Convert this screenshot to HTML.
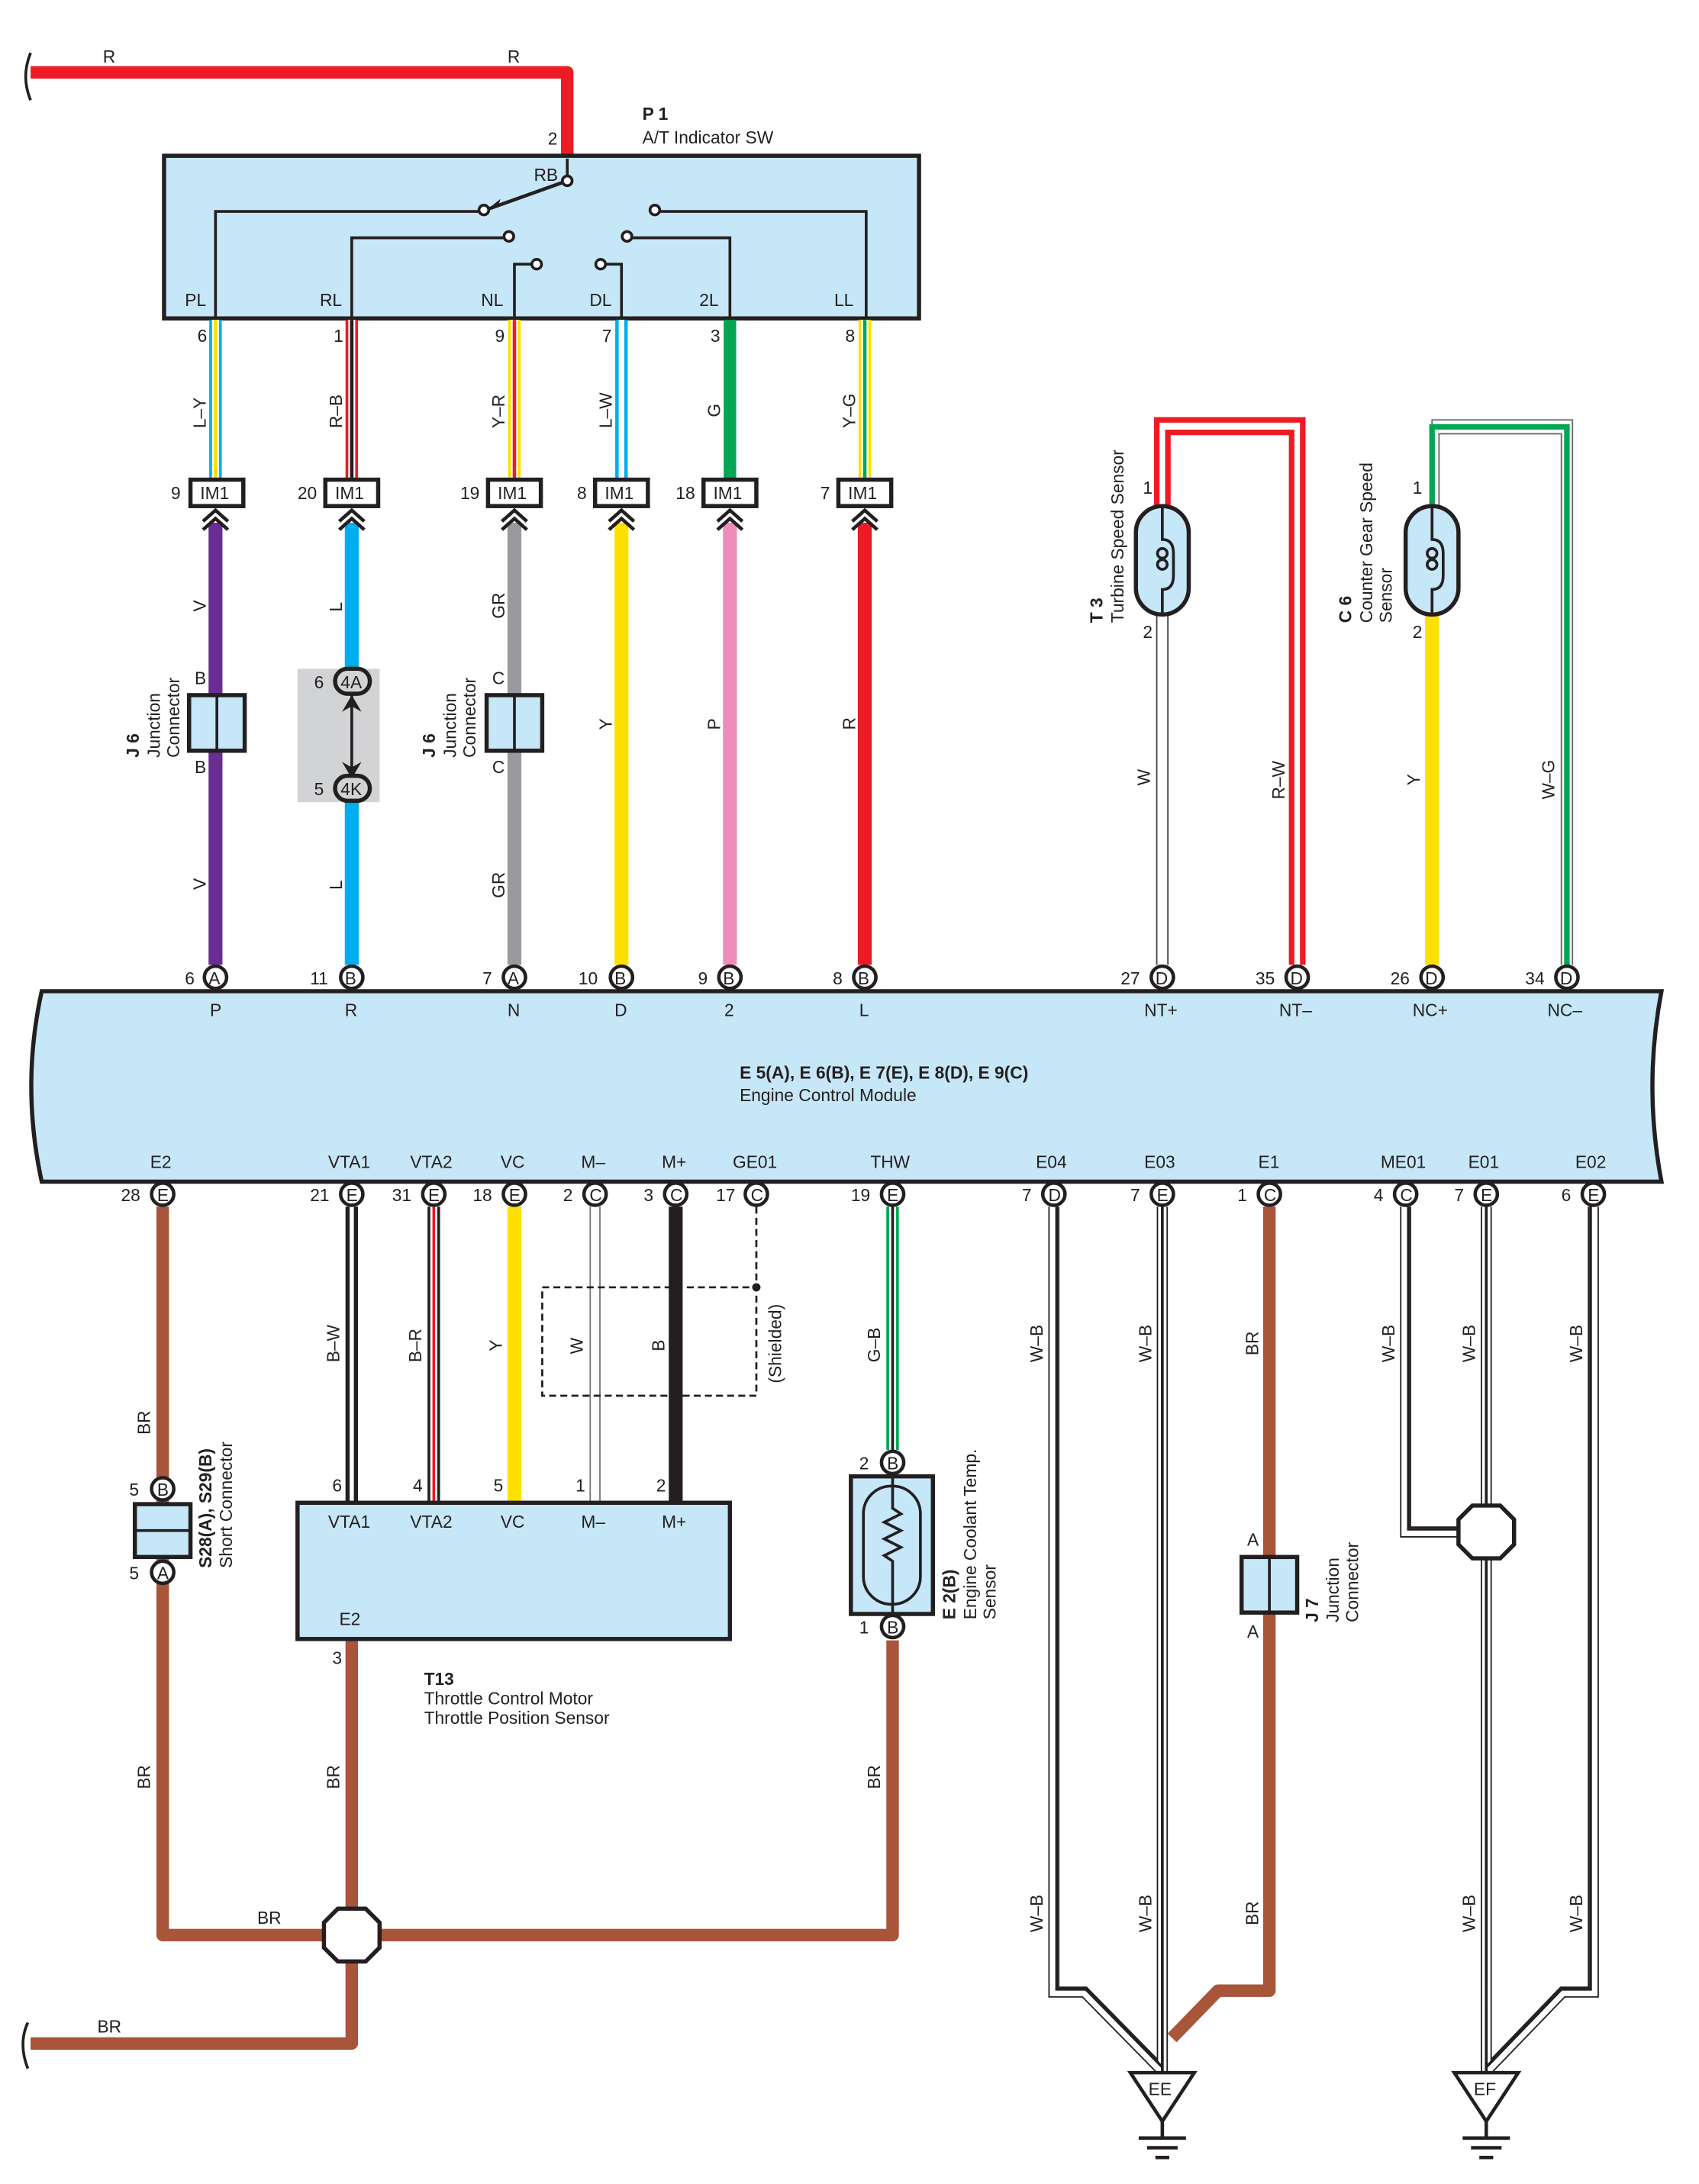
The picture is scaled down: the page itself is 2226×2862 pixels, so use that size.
<!DOCTYPE html>
<html><head><meta charset="utf-8"><style>
html,body{margin:0;padding:0;background:#fff}
svg{display:block}
text{font-family:"Liberation Sans",sans-serif;font-size:12.5px;fill:#231f20}
.b{font-weight:bold}
.bx{fill:#c6e7f8;stroke:#231f20;stroke-width:3}
.k{fill:none;stroke:#231f20;stroke-width:2}
.pin{fill:#fff;stroke:#231f20;stroke-width:2.5}
.br{fill:none;stroke:#a8553a;stroke-width:9;stroke-linejoin:round}
</style></head><body>
<svg width="2226" height="2862" viewBox="0 0 1222 1571" xmlns="http://www.w3.org/2000/svg">
<path d="M22 52 H408 V112" fill="none" stroke="#ed1c24" stroke-width="9" stroke-linejoin="round"/>
<path d="M22 38 Q15 55 22 72" class="k"/>
<text x="74" y="45">R</text><text x="365" y="45">R</text>
<text x="462" y="86" class="b">P 1</text><text x="462" y="103">A/T Indicator SW</text>
<text x="394" y="104">2</text>
<rect x="118" y="112" width="543" height="117" class="bx"/>
<text x="384" y="130">RB</text>
<path d="M408 114 V130" class="k"/>
<path d="M408 130 L352 150" stroke="#231f20" stroke-width="2.5" fill="none"/>
<path d="M350 151 l10 -8 l-2 6z" fill="#231f20"/>
<g class="k" fill="#fff">
<circle cx="408" cy="130" r="3.5" fill="#fff"/>
<circle cx="348" cy="151" r="3.5" fill="#fff"/><circle cx="471" cy="151" r="3.5" fill="#fff"/>
<circle cx="366" cy="170" r="3.5" fill="#fff"/><circle cx="451" cy="170" r="3.5" fill="#fff"/>
<circle cx="386" cy="190" r="3.5" fill="#fff"/><circle cx="432" cy="190" r="3.5" fill="#fff"/>
</g>
<path d="M155 229 V152 H344 M475 152 H623 V229 M253 229 V171 H362 M455 171 H525 V229 M370 229 V190 H382 M436 190 H447 V229" class="k"/>
<text x="133" y="220">PL</text><text x="230" y="220">RL</text><text x="346" y="220">NL</text><text x="424" y="220">DL</text><text x="503" y="220">2L</text><text x="600" y="220">LL</text>
<text x="142" y="246">6</text><text x="240" y="246">1</text><text x="356" y="246">9</text><text x="433" y="246">7</text><text x="511" y="246">3</text><text x="608" y="246">8</text>
<g fill="none">
<path d="M155 230 V345" stroke="#00aeef" stroke-width="9"/><path d="M155 230 V345" stroke="#fff" stroke-width="5"/><path d="M155 230 V345" stroke="#ffe000" stroke-width="2.5"/>
<path d="M253 230 V345" stroke="#ed1c24" stroke-width="9"/><path d="M253 230 V345" stroke="#fff" stroke-width="5"/><path d="M253 230 V345" stroke="#231f20" stroke-width="2.5"/>
<path d="M370 230 V345" stroke="#ffe000" stroke-width="9"/><path d="M370 230 V345" stroke="#fff" stroke-width="5"/><path d="M370 230 V345" stroke="#ed1c24" stroke-width="2.5"/>
<path d="M447 230 V345" stroke="#00aeef" stroke-width="9"/><path d="M447 230 V345" stroke="#fff" stroke-width="4"/>
<path d="M525 230 V345" stroke="#00a651" stroke-width="9"/>
<path d="M622 230 V345" stroke="#ffe000" stroke-width="9"/><path d="M622 230 V345" stroke="#fff" stroke-width="5"/><path d="M622 230 V345" stroke="#00a651" stroke-width="2.5"/>
</g>
<g transform="rotate(-90)">
<text x="-308" y="148">L–Y</text><text x="-308" y="246">R–B</text><text x="-308" y="363">Y–R</text><text x="-308" y="440">L–W</text><text x="-300" y="518">G</text><text x="-308" y="615">Y–G</text>
</g>
<g>
<rect x="137" y="345" width="38" height="19" fill="#fff" stroke="#231f20" stroke-width="3"/><text x="144" y="359">IM1</text>
<rect x="234" y="345" width="38" height="19" fill="#fff" stroke="#231f20" stroke-width="3"/><text x="241" y="359">IM1</text>
<rect x="351" y="345" width="38" height="19" fill="#fff" stroke="#231f20" stroke-width="3"/><text x="358" y="359">IM1</text>
<rect x="428" y="345" width="38" height="19" fill="#fff" stroke="#231f20" stroke-width="3"/><text x="435" y="359">IM1</text>
<rect x="506" y="345" width="38" height="19" fill="#fff" stroke="#231f20" stroke-width="3"/><text x="513" y="359">IM1</text>
<rect x="603" y="345" width="38" height="19" fill="#fff" stroke="#231f20" stroke-width="3"/><text x="610" y="359">IM1</text>
</g>
<text x="123" y="359">9</text><text x="214" y="359">20</text><text x="331" y="359">19</text><text x="415" y="359">8</text><text x="486" y="359">18</text><text x="590" y="359">7</text>
<g fill="none" stroke-width="10">
<path d="M155 376 V694" stroke="#6b2d91"/>
<path d="M253 376 V694" stroke="#00aeef"/>
<path d="M370 376 V694" stroke="#999a9d"/>
<path d="M447 376 V694" stroke="#ffe000"/>
<path d="M525 376 V694" stroke="#f08cba"/>
<path d="M622 376 V694" stroke="#ed1c24"/>
</g>
<g fill="none" stroke="#231f20" stroke-width="2.5">
<path d="M146 375 l9 -8 l9 8 M146 381 l9 -8 l9 8"/>
<path d="M244 375 l9 -8 l9 8 M244 381 l9 -8 l9 8"/>
<path d="M361 375 l9 -8 l9 8 M361 381 l9 -8 l9 8"/>
<path d="M438 375 l9 -8 l9 8 M438 381 l9 -8 l9 8"/>
<path d="M516 375 l9 -8 l9 8 M516 381 l9 -8 l9 8"/>
<path d="M613 375 l9 -8 l9 8 M613 381 l9 -8 l9 8"/>
</g>
<g transform="rotate(-90)">
<text x="-440" y="148">V</text><text x="-640" y="148">V</text>
<text x="-440" y="246">L</text><text x="-640" y="246">L</text>
<text x="-445" y="363">GR</text><text x="-646" y="363">GR</text>
<text x="-525" y="440">Y</text><text x="-525" y="518">P</text><text x="-525" y="615">R</text>
<text x="-545" y="100" class="b">J 6</text><text x="-545" y="115">Junction</text><text x="-545" y="129">Connector</text>
<text x="-545" y="313" class="b">J 6</text><text x="-545" y="328">Junction</text><text x="-545" y="342">Connector</text>
</g>
<rect x="136" y="500" width="40" height="40" class="bx"/><path d="M156 500 V540" class="k"/>
<text x="140" y="492">B</text><text x="140" y="556">B</text>
<rect x="350" y="500" width="40" height="40" class="bx"/><path d="M370 500 V540" class="k"/>
<text x="354" y="492">C</text><text x="354" y="556">C</text>
<rect x="214" y="481" width="59" height="96" fill="#d1d3d4"/>
<path d="M253 500 V556" stroke="#231f20" stroke-width="2"/>
<path d="M253 500 l-7 12 l7 -4 l7 4z M253 560 l-7 -12 l7 4 l7 -4z" fill="#231f20"/>
<rect x="241" y="481" width="25" height="18" rx="9" fill="#d1d3d4" stroke="#231f20" stroke-width="3"/><text x="245" y="495">4A</text>
<rect x="241" y="558" width="25" height="18" rx="9" fill="#d1d3d4" stroke="#231f20" stroke-width="3"/><text x="245" y="572">4K</text>
<text x="226" y="495">6</text><text x="226" y="572">5</text>
<!-- T3 -->
<path d="M832 365 V302 H937 V694" fill="none" stroke="#ed1c24" stroke-width="4"/>
<path d="M840 365 V311 H929 V694" fill="none" stroke="#ed1c24" stroke-width="4"/>
<path d="M836 441 V694" fill="none" stroke="#444" stroke-width="9"/><path d="M836 441 V694" fill="none" stroke="#fff" stroke-width="7"/>
<rect x="817" y="364" width="38" height="78" rx="19" class="bx"/>
<path d="M836 364 V388 q8 0 8 10 v16 q0 10 -8 10 V442" class="k"/>
<circle cx="836" cy="398" r="3.5" class="k"/><circle cx="836" cy="406" r="3.5" class="k"/>
<text x="822" y="355">1</text><text x="822" y="459">2</text>
<!-- C6 -->
<path d="M1030 365 V302 H1131 V694" fill="none" stroke="#666" stroke-width="1"/>
<path d="M1030 365 V307 H1127 V694" fill="none" stroke="#00a651" stroke-width="4"/>
<path d="M1035 365 V312 H1123 V694" fill="none" stroke="#666" stroke-width="1"/>
<path d="M1030 441 V694" stroke="#ffe000" stroke-width="10"/>
<rect x="1011" y="364" width="38" height="78" rx="19" class="bx"/>
<path d="M1030 364 V388 q8 0 8 10 v16 q0 10 -8 10 V442" class="k"/>
<circle cx="1030" cy="398" r="3.5" class="k"/><circle cx="1030" cy="406" r="3.5" class="k"/>
<text x="1016" y="355">1</text><text x="1016" y="459">2</text>
<g transform="rotate(-90)">
<text x="-448" y="793" class="b">T 3</text><text x="-448" y="808">Turbine Speed Sensor</text>
<text x="-448" y="972" class="b">C 6</text><text x="-448" y="987">Counter Gear Speed</text><text x="-448" y="1001">Sensor</text>
<text x="-565" y="827">W</text><text x="-575" y="924">R–W</text><text x="-565" y="1021">Y</text><text x="-575" y="1118">W–G</text>
</g>
<path d="M30 713 H1195 Q1182 781 1195 850 H30 Q15 781 30 713Z" class="bx"/>
<g>
<circle cx="155" cy="703" r="8" class="pin"/><text x="150" y="708">A</text>
<circle cx="253" cy="703" r="8" class="pin"/><text x="248" y="708">B</text>
<circle cx="370" cy="703" r="8" class="pin"/><text x="365" y="708">A</text>
<circle cx="447" cy="703" r="8" class="pin"/><text x="442" y="708">B</text>
<circle cx="525" cy="703" r="8" class="pin"/><text x="520" y="708">B</text>
<circle cx="622" cy="703" r="8" class="pin"/><text x="617" y="708">B</text>
<circle cx="836" cy="703" r="8" class="pin"/><text x="831" y="708">D</text>
<circle cx="933" cy="703" r="8" class="pin"/><text x="928" y="708">D</text>
<circle cx="1030" cy="703" r="8" class="pin"/><text x="1025" y="708">D</text>
<circle cx="1127" cy="703" r="8" class="pin"/><text x="1122" y="708">D</text>
</g>
<text x="133" y="708">6</text><text x="223" y="708">11</text><text x="347" y="708">7</text><text x="416" y="708">10</text><text x="502" y="708">9</text><text x="599" y="708">8</text>
<text x="806" y="708">27</text><text x="903" y="708">35</text><text x="1000" y="708">26</text><text x="1097" y="708">34</text>
<text x="151" y="731">P</text><text x="248" y="731">R</text><text x="365" y="731">N</text><text x="442" y="731">D</text><text x="521" y="731">2</text><text x="618" y="731">L</text>
<text x="823" y="731">NT+</text><text x="920" y="731">NT–</text><text x="1016" y="731">NC+</text><text x="1113" y="731">NC–</text>
<text x="532" y="776" class="b">E 5(A), E 6(B), E 7(E), E 8(D), E 9(C)</text>
<text x="532" y="792">Engine Control Module</text>
<text x="108" y="840">E2</text><text x="236" y="840">VTA1</text><text x="295" y="840">VTA2</text><text x="360" y="840">VC</text><text x="418" y="840">M–</text><text x="476" y="840">M+</text><text x="527" y="840">GE01</text><text x="626" y="840">THW</text>
<text x="745" y="840">E04</text><text x="823" y="840">E03</text><text x="905" y="840">E1</text><text x="993" y="840">ME01</text><text x="1056" y="840">E01</text><text x="1133" y="840">E02</text>
<path d="M117 868 V1392 H642 V1180 M253 1180 V1470 H22" class="br"/>
<path d="M20 1455 Q13 1470 20 1488" class="k"/>
<g fill="none">
<path d="M253 868 V1081" stroke="#231f20" stroke-width="9"/><path d="M253 868 V1081" stroke="#fff" stroke-width="3"/>
<path d="M312 868 V1081" stroke="#231f20" stroke-width="9"/><path d="M312 868 V1081" stroke="#fff" stroke-width="5"/><path d="M312 868 V1081" stroke="#ed1c24" stroke-width="2"/>
<path d="M370 868 V1081" stroke="#ffe000" stroke-width="10"/>
<path d="M428 868 V1081" stroke="#777" stroke-width="8"/><path d="M428 868 V1081" stroke="#fff" stroke-width="6"/>
<path d="M486 868 V1081" stroke="#231f20" stroke-width="10"/>
<path d="M642 868 V1043" stroke="#00a651" stroke-width="9"/><path d="M642 868 V1043" stroke="#fff" stroke-width="5"/><path d="M642 868 V1043" stroke="#231f20" stroke-width="2"/>
<path d="M544 868 V926 M390 926 H544 V1004 H390Z" stroke="#231f20" stroke-width="1.5" stroke-dasharray="5 3"/>
</g>
<circle cx="544" cy="926" r="3" fill="#231f20"/>
<g fill="none" stroke-linejoin="miter">
<path d="M758 868 V1433 H780 L836 1490 M836 868 V1490 M1146 868 V1433 H1124 L1069 1490 M1069 868 V1490 M1011 868 V1102 H1069" stroke="#231f20" stroke-width="8"/>
<path d="M758 868 V1433 H780 L836 1490 M836 868 V1490 M1146 868 V1433 H1124 L1069 1490 M1069 868 V1490 M1011 868 V1102 H1069" stroke="#fff" stroke-width="6"/>
<path d="M760 868 V1431 H781 L836 1487 M836 868 V1490 M1144 868 V1431 H1123 L1069 1487 M1069 868 V1490 M1013 868 V1100 H1069" stroke="#231f20" stroke-width="2"/>
</g>
<path d="M913 868 V1432 H876 L843 1466" class="br"/>
<g>
<circle cx="117" cy="859" r="8" class="pin"/><text x="113" y="864">E</text>
<circle cx="253" cy="859" r="8" class="pin"/><text x="249" y="864">E</text>
<circle cx="312" cy="859" r="8" class="pin"/><text x="308" y="864">E</text>
<circle cx="370" cy="859" r="8" class="pin"/><text x="366" y="864">E</text>
<circle cx="428" cy="859" r="8" class="pin"/><text x="424" y="864">C</text>
<circle cx="486" cy="859" r="8" class="pin"/><text x="482" y="864">C</text>
<circle cx="544" cy="859" r="8" class="pin"/><text x="540" y="864">C</text>
<circle cx="642" cy="859" r="8" class="pin"/><text x="638" y="864">E</text>
<circle cx="758" cy="859" r="8" class="pin"/><text x="754" y="864">D</text>
<circle cx="836" cy="859" r="8" class="pin"/><text x="832" y="864">E</text>
<circle cx="913" cy="859" r="8" class="pin"/><text x="909" y="864">C</text>
<circle cx="1011" cy="859" r="8" class="pin"/><text x="1007" y="864">C</text>
<circle cx="1069" cy="859" r="8" class="pin"/><text x="1065" y="864">E</text>
<circle cx="1146" cy="859" r="8" class="pin"/><text x="1142" y="864">E</text>
</g>
<text x="87" y="864">28</text><text x="223" y="864">21</text><text x="282" y="864">31</text><text x="340" y="864">18</text><text x="405" y="864">2</text><text x="463" y="864">3</text><text x="515" y="864">17</text><text x="612" y="864">19</text>
<text x="735" y="864">7</text><text x="813" y="864">7</text><text x="890" y="864">1</text><text x="988" y="864">4</text><text x="1046" y="864">7</text><text x="1123" y="864">6</text>
<circle cx="117" cy="1071" r="8" class="pin"/><text x="113" y="1076">B</text>
<circle cx="117" cy="1131" r="8" class="pin"/><text x="113" y="1136">A</text>
<rect x="97" y="1082" width="40" height="38" class="bx"/><path d="M97 1101 H137" class="k"/>
<text x="93" y="1076">5</text><text x="93" y="1136">5</text>
<rect x="214" y="1081" width="311" height="98" class="bx"/>
<text x="236" y="1099">VTA1</text><text x="295" y="1099">VTA2</text><text x="360" y="1099">VC</text><text x="418" y="1099">M–</text><text x="476" y="1099">M+</text>
<text x="244" y="1169">E2</text>
<text x="239" y="1073">6</text><text x="297" y="1073">4</text><text x="355" y="1073">5</text><text x="414" y="1073">1</text><text x="472" y="1073">2</text>
<text x="239" y="1197">3</text>
<text x="305" y="1212" class="b">T13</text><text x="305" y="1226">Throttle Control Motor</text><text x="305" y="1240">Throttle Position Sensor</text>
<rect x="612" y="1062" width="59" height="99" class="bx"/>
<rect x="621" y="1069" width="41" height="85" rx="20" class="k" fill="none"/>
<path d="M642 1062 V1085 l6 4 l-12 6 l12 6 l-12 6 l12 6 l-12 6 l6 4 V1161" class="k"/>
<circle cx="642" cy="1052" r="8" class="pin"/><text x="638" y="1057">B</text>
<circle cx="642" cy="1170" r="8" class="pin"/><text x="638" y="1175">B</text>
<text x="618" y="1057">2</text><text x="618" y="1175">1</text>
<rect x="893" y="1120" width="40" height="40" class="bx"/><path d="M913 1120 V1160" class="k"/>
<text x="897" y="1112">A</text><text x="897" y="1178">A</text>
<path d="M243 1373 H263 L273 1383 V1401 L263 1411 H243 L233 1401 V1383Z" fill="#fff" stroke="#231f20" stroke-width="3"/>
<path d="M1059 1083 H1079 L1089 1093 V1111 L1079 1121 H1059 L1049 1111 V1093Z" fill="#fff" stroke="#231f20" stroke-width="3"/>
<g fill="#fff" stroke="#231f20" stroke-width="2.5">
<path d="M813 1491 H859 L836 1526Z"/><path d="M1046 1491 H1092 L1069 1526Z"/>
</g>
<text x="826" y="1507">EE</text><text x="1060" y="1507">EF</text>
<path d="M836 1526 V1537 M819 1538 H853 M825 1545 H847 M831 1552 H841 M1069 1526 V1537 M1052 1538 H1086 M1058 1545 H1080 M1064 1552 H1074" stroke="#231f20" stroke-width="2.5"/>
<text x="185" y="1384">BR</text><text x="70" y="1462">BR</text>
<g transform="rotate(-90)">
<text x="-1032" y="108">BR</text><text x="-1287" y="108">BR</text><text x="-1287" y="244">BR</text><text x="-1287" y="633">BR</text>
<text x="-980" y="244">B–W</text><text x="-980" y="303">B–R</text><text x="-972" y="361">Y</text><text x="-974" y="419">W</text><text x="-972" y="478">B</text>
<text x="-995" y="562">(Shielded)</text>
<text x="-980" y="633">G–B</text>
<text x="-980" y="750">W–B</text><text x="-980" y="828">W–B</text><text x="-975" y="905">BR</text><text x="-980" y="1003">W–B</text><text x="-980" y="1061">W–B</text><text x="-980" y="1138">W–B</text>
<text x="-1390" y="750">W–B</text><text x="-1390" y="828">W–B</text><text x="-1385" y="905">BR</text><text x="-1390" y="1061">W–B</text><text x="-1390" y="1138">W–B</text>
<text x="-1128" y="152" class="b">S28(A), S29(B)</text><text x="-1128" y="167">Short Connector</text>
<text x="-1165" y="687" class="b">E 2(B)</text><text x="-1165" y="702">Engine Coolant Temp.</text><text x="-1165" y="716">Sensor</text>
<text x="-1167" y="948" class="b">J 7</text><text x="-1167" y="963">Junction</text><text x="-1167" y="977">Connector</text>
</g>
</svg>
</body></html>
